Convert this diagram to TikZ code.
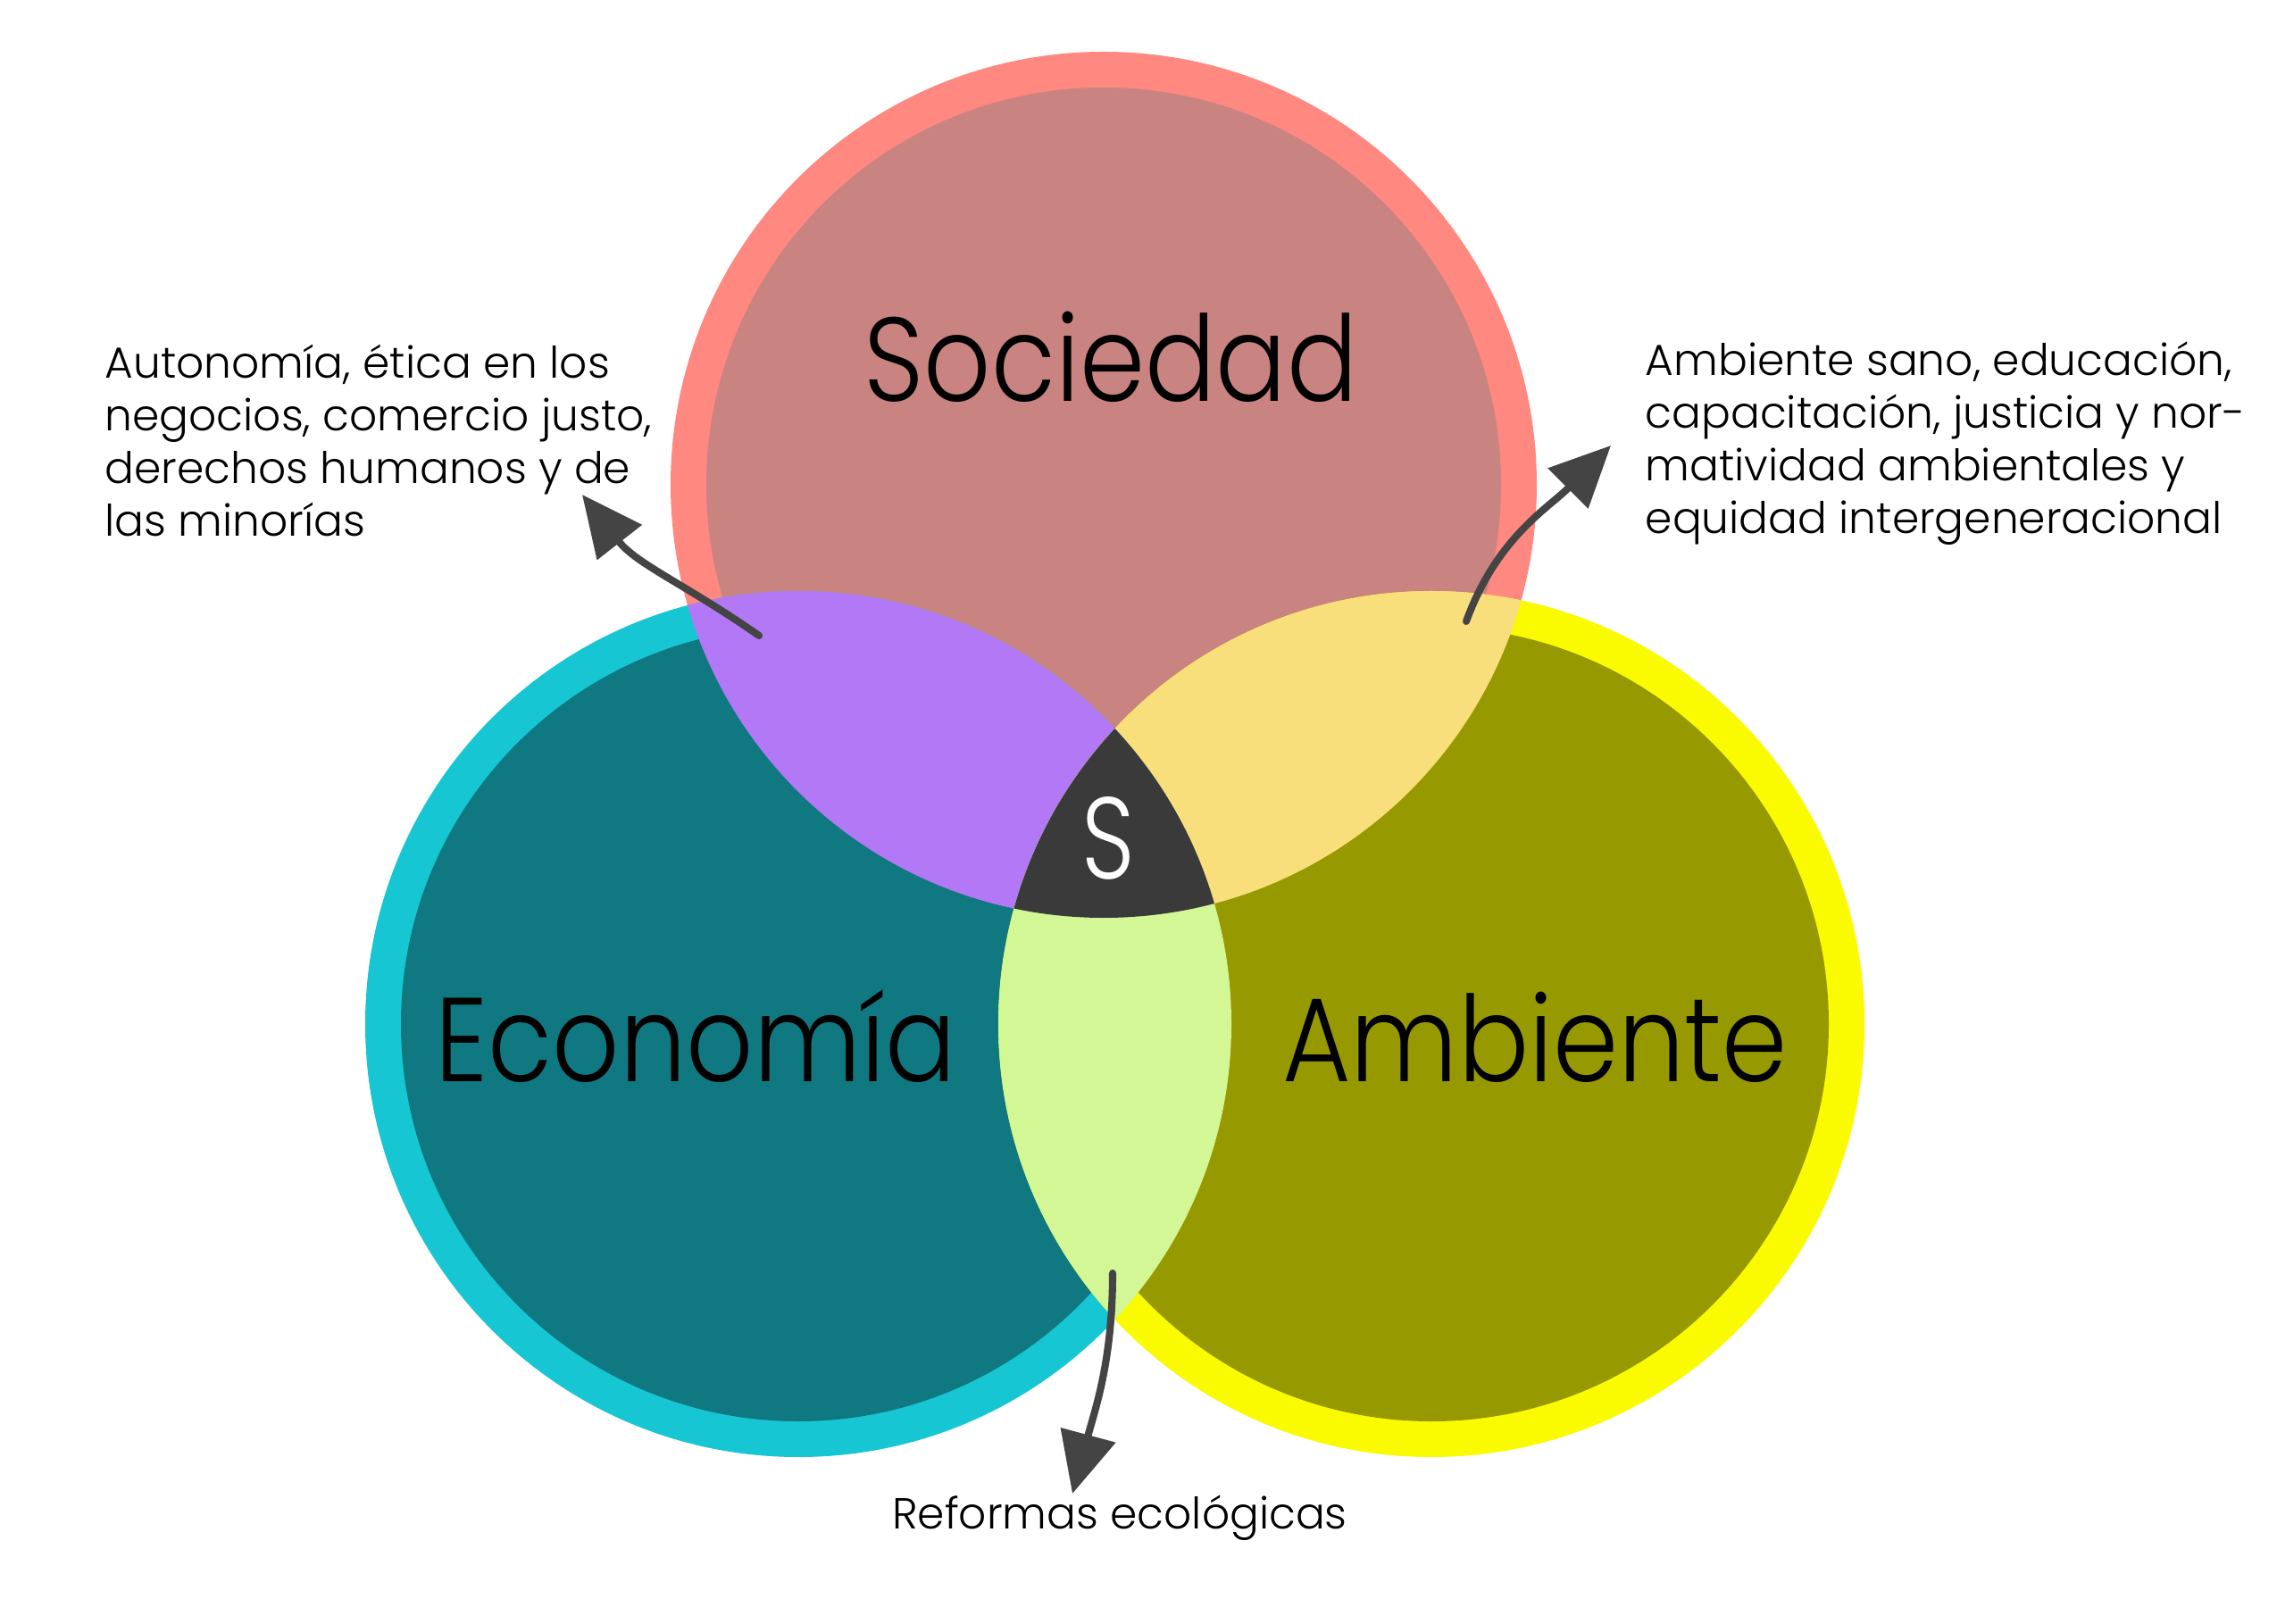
\documentclass[tikz,border=0pt]{standalone}
\usepackage{fontspec}
\setmainfont{Poppins}[UprightFont={* Light}]
\usetikzlibrary{arrows.meta}

\definecolor{socring}{HTML}{FF8880}
\definecolor{socfill}{HTML}{C98381}
\definecolor{ecoring}{HTML}{17C6D3}
\definecolor{ecofill}{HTML}{0F7880}
\definecolor{ambring}{HTML}{FAFA00}
\definecolor{ambfill}{HTML}{969900}
\definecolor{lila}{HTML}{B378F5}
\definecolor{crema}{HTML}{F9DF7B}
\definecolor{verde}{HTML}{D4F795}
\definecolor{centro}{HTML}{3A3A3A}
\definecolor{flecha}{HTML}{444444}

\newcommand{\angosto}[1]{\scalebox{0.88}[1]{#1}}

\tikzset{
  titulo/.style={anchor=base, inner sep=0pt, font=\fontsize{38}{42}\selectfont},
  nota/.style={inner sep=0pt, align=left, font=\fontsize{13.85}{16.8}\selectfont},
  flechita/.style={draw=flecha, line width=2.3pt, line cap=round,
    -{Triangle[length=0.68cm, width=0.62cm]}}
}

\begin{document}
\begin{tikzpicture}
  \useasboundingbox (0,0) rectangle (25.5,18.18);
  \fill[white] (0,0) rectangle (25.5,18.18);

  \def\rout{4.85}
  \def\rin{4.45}
  \coordinate (soc) at (12.36,12.75);
  \coordinate (eco) at (8.94,6.71);
  \coordinate (amb) at (16.03,6.71);

  % anillos y rellenos
  \fill[socring] (soc) circle (\rout);
  \fill[socfill] (soc) circle (\rin);
  \fill[ecoring] (eco) circle (\rout);
  \fill[ecofill] (eco) circle (\rin);
  \fill[ambring] (amb) circle (\rout);
  \fill[ambfill] (amb) circle (\rin);

  % intersecciones
  \begin{scope}
    \clip (soc) circle (\rout);
    \fill[lila] (eco) circle (\rout);
    \fill[crema] (amb) circle (\rout);
  \end{scope}
  \begin{scope}
    \clip (eco) circle (\rout);
    \fill[verde] (amb) circle (\rout);
  \end{scope}
  \begin{scope}
    \clip (soc) circle (\rout);
    \clip (eco) circle (\rout);
    \fill[centro] (amb) circle (\rout);
  \end{scope}

  % textos
  \node[titulo] (tsoc) at (12.44,13.68) {\angosto{Sociedad}};
  \node[titulo] (teco) at (7.79,6.07) {\angosto{Economía}};
  \node[titulo] (tamb) at (17.19,6.07) {\angosto{Ambiente}};
  \node[titulo, text=white, font=\fontsize{37}{40}\selectfont] (tS) at (12.41,8.34)
    {\scalebox{0.8}[1]{S}};

  \node[nota, anchor=north west] (nlila) at (1.17,14.33)
    {Autonomía, ética en los\\negocios, comercio justo,\\derechos humanos y de\\las minorías};
  \node[nota, anchor=north west] (ncrema) at (18.42,14.36)
    {Ambiente sano, educación,\\capacitación, justicia y nor-\\matividad ambientales y\\equidad intergeneracional};
  \node[nota, anchor=base] (nverde) at (12.54,1.06) {Reformas ecológicas};

  % flechas
  \coordinate (pLila) at (8.50,11.06);
  \coordinate (qLila) at (6.52,12.64);
  \coordinate (pCrema) at (16.42,11.22);
  \coordinate (qCrema) at (18.04,13.19);
  \coordinate (pVerde) at (12.46,3.92);
  \coordinate (qVerde) at (12.01,1.45);
  \draw[flechita] (pLila) to[out=145, in=-52] (qLila);
  \draw[flechita] (pCrema) to[out=70, in=-135] (qCrema);
  \draw[flechita] (pVerde) to[out=-90, in=75] (qVerde);
\end{tikzpicture}
\end{document}
